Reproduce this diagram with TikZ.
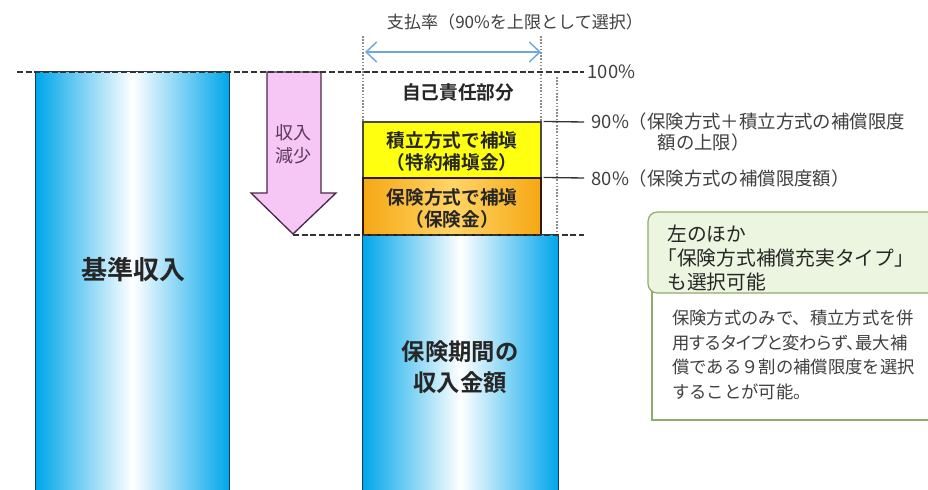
\documentclass[tikz,border=0pt]{standalone}
\usepackage{fontspec}
\setmainfont{Noto Sans CJK JP}[BoldFont={Noto Sans CJK JP Bold}]
\newfontfamily\propjp{Noto Sans CJK JP}[RawFeature=+palt]
\usetikzlibrary{arrows.meta,fit}
\definecolor{barblue}{HTML}{00A6EA}
\definecolor{barmid}{HTML}{6CCDF3}
\definecolor{barline}{HTML}{1C3B57}
\definecolor{boxyellow}{HTML}{FFFF10}
\definecolor{orangeedge}{HTML}{F5A814}
\definecolor{orangemid}{HTML}{FFD466}
\definecolor{pinkfill}{HTML}{F6C6F4}
\definecolor{pinkline}{HTML}{4A2A48}
\definecolor{pinktext}{HTML}{5A3A5A}
\definecolor{greenline}{HTML}{8FAC6C}
\definecolor{greenfill}{HTML}{EBF5DF}
\definecolor{graytext}{HTML}{404040}
\definecolor{arrowblue}{HTML}{6FA8DC}
\tikzset{
  barframe/.style={inner sep=0pt},
  barborder/.style={draw=barline, line width=1pt},
  lefthalf/.style={left color=barblue, middle color=barmid, right color=white},
  righthalf/.style={left color=white, middle color=barmid, right color=barblue},
  yellowbox/.style={draw=black!80!yellow, line width=0.8pt, inner sep=0pt, fill=boxyellow},
  orangebox/.style={draw=black!80!orange, line width=0.8pt, inner sep=0pt, left color=orangeedge, right color=orangeedge, middle color=orangemid},
  boxtxt/.style={font=\bfseries\fontsize{14}{16.5}\selectfont, text=black!85, align=center},
  bigtxt/.style={font=\bfseries\fontsize{17.5}{23}\selectfont, text=black!85, align=center},
  pcttxt/.style={font=\fontsize{13.8}{16}\selectfont, text=graytext, anchor=west, inner sep=1pt},
  dashline/.style={draw=black!80, line width=1pt, dash pattern=on 4.5pt off 2pt},
  dotline/.style={draw=black!45, line width=1pt, dash pattern=on 1.2pt off 1.2pt},
  solidline/.style={draw=black!80, line width=1pt},
  greenhead/.style={draw=greenline, line width=0.9pt, fill=greenfill, rounded corners=7pt, inner sep=0pt},
  greenbody/.style={draw=greenline, line width=0.9pt, fill=white, inner sep=0pt},
}
\begin{document}
\begin{tikzpicture}[x=0.75pt,y=-0.75pt]
\useasboundingbox (0,0) rectangle (928,489);
\fill[white] (0,0) rectangle (928,489);

% dotted guide lines
\coordinate (dla) at (363,36);
\coordinate (dlb) at (363,235);
\coordinate (dra) at (541,36);
\coordinate (drb) at (541,122);
\coordinate (dxa) at (557,77);
\coordinate (dxb) at (557,235);
\draw[dotline] (dla) -- (dlb);
\draw[dotline] (dra) -- (drb);
\draw[dotline] (dxa) -- (dxb);

% bars
\node[barframe, fit={(36,72)(229,500)}] (base) {};
\shade[lefthalf] (base.north west) rectangle (base.south);
\shade[righthalf] (base.north) rectangle (base.south east);
\draw[barborder] (base.north west) rectangle (base.south east);
\node[bigtxt, font=\bfseries\fontsize{19.5}{23}\selectfont] (basetxt) at (133,270) {基準収入};

\node[barframe, fit={(363,235)(558,500)}] (curr) {};
\shade[lefthalf] (curr.north west) rectangle (curr.south);
\shade[righthalf] (curr.north) rectangle (curr.south east);
\draw[barborder] (curr.north west) rectangle (curr.south east);
\node[bigtxt] (currtxt) at (460,367) {保険期間の\\収入金額};

\node[yellowbox, fit={(363,122)(541,178)}] (ybox) {};
\node[boxtxt] (ytxt) at (452,151) {積立方式で補塡\\（特約補塡金）};
\node[orangebox, fit={(363,178)(541,235)}] (obox) {};
\node[boxtxt] (otxt) at (452,208) {保険方式で補塡\\（保険金）};
\node[boxtxt] (selftxt) at (458,92) {自己責任部分};

% income decrease arrow
\draw[draw=pinkline, line width=1pt, fill=pinkfill, line join=miter]
  (267,72) -- (321,72) -- (321,193) -- (336,193) -- (293,234) -- (251,193) -- (267,193) -- cycle;
\node[font=\fontsize{13.5}{17}\selectfont, text=pinktext, align=center] (dectxt) at (293,144) {収入\\減少};

% payout rate arrow
\coordinate (pl) at (365,52);
\coordinate (pr) at (541,52);
\draw[draw=arrowblue, line width=1.1pt, {Straight Barb[length=8pt,width=15pt]}-{Straight Barb[length=8pt,width=15pt]}] (pl) -- (pr);
\node[font=\fontsize{12.8}{15}\selectfont, text=graytext] (title) at (515,22) {支払率（90\%を上限として選択）};

% percentage labels and lines
\node[pcttxt] (p100) at (586,72) {100\%};
\node[pcttxt] (p90) at (590,122) {90\%（保険方式＋積立方式の補償限度};
\node[pcttxt] (p90b) at (656,143) {額の上限）};
\node[pcttxt] (p80) at (590,179) {80\%（保険方式の補償限度額）};

\coordinate (l100a) at (17,72);
\coordinate (l100b) at (584,72);
\draw[dashline] (l100a) -- (l100b);
\coordinate (tip) at (293,235);
\coordinate (l0b) at (584,235);
\draw[dashline] (tip) -- (l0b);
\coordinate (l90b) at (584,122);
\draw[solidline] (ybox.north east) ++(2,0) -- (l90b);
\coordinate (l80b) at (584,178);
\draw[solidline] (obox.north east) ++(2,0) -- (l80b);

% green note
\node[greenbody, fit={(652,290)(940,420)}] (gbody) {};
\node[greenhead, fit={(648,212)(940,293)}] (ghead) {};
\node[anchor=west, align=left, inner sep=0pt, font=\fontsize{14.8}{18}\selectfont, text=black!85] (gtop) at (667,258) {左のほか\\\hspace*{-0.5em}「保険方式補償充実タイプ」\\も選択可能};
\node[anchor=west, align=left, inner sep=0pt, font=\fontsize{13}{18.5}\selectfont, text=graytext] (gtxt) at (672,355) {保険方式のみで、積立方式を併\\{\propjp 用するタイプと変わらず、最大補}\\償である９割の補償限度を選択\\することが可能。};
\end{tikzpicture}
\end{document}
